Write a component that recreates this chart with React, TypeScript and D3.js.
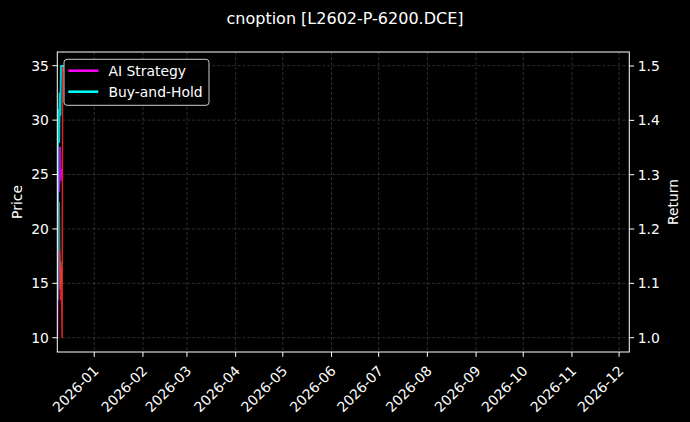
import * as d3 from "d3";

// Return series (right axis)
const aiDates = ["2025-12-08T12:00", "2025-12-09T02:00", "2025-12-09T14:00", "2025-12-10T04:00", "2025-12-10T16:00", "2025-12-11T06:00"];
const aiReturn = [1.0, 1.3, 1.27, 1.35, 1.29, 1.31];

const bhDates = ["2025-12-08T14:00", "2025-12-08T22:00", "2025-12-09T08:00", "2025-12-09T16:00", "2025-12-10T00:00", "2025-12-10T10:00", "2025-12-10T20:00", "2025-12-11T18:00", "2025-12-12T14:00"];
const bhReturn = [1.07, 1.38, 1.42, 1.36, 1.45, 1.41, 1.5, 1.5, 1.5];

// Price series (left axis)
const priceDates = ["2025-12-10T00:00", "2025-12-10T12:00", "2025-12-11T00:00", "2025-12-11T14:00", "2025-12-11T22:00", "2025-12-12T10:00"];
const priceValues = [18, 13.5, 16.5, 10, 35, 34.5];

const maDates = ["2025-12-09T18:00", "2025-12-10T06:00", "2025-12-10T18:00", "2025-12-11T06:00"];
const maValues = [22.5, 14.5, 17, 15];

const priceTicks = [10, 15, 20, 25, 30, 35];
const returnTicks = [1.0, 1.1, 1.2, 1.3, 1.4, 1.5];

const W = 690;
const H = 422;
const m = { left: 57.3, right: 629.3, top: 52, bottom: 352 };
const font = "DejaVu Sans, sans-serif";

const parse = (s: string) => new Date(s + ":00Z");

export default function App() {
  const x = d3
    .scaleUtc()
    .domain([parse("2025-12-08T12:00"), parse("2026-12-07T12:00")])
    .range([m.left, m.right]);
  const yP = d3.scaleLinear().domain([8.69, 36.26]).range([m.bottom, m.top]);
  const yR = d3.scaleLinear().domain([0.9737, 1.5258]).range([m.bottom, m.top]);

  const months = x.ticks(d3.utcMonth.every(1)!).filter((d) => d >= parse("2026-01-01T00:00"));
  const fmt = d3.utcFormat("%Y-%m");

  const mk = (dates: string[], vals: number[], y: d3.ScaleLinear<number, number>) =>
    d3
      .line<number>()
      .x((_, i) => x(parse(dates[i])))
      .y((v) => y(v))(vals) || "";

  return (
    <svg width={W} height={H} style={{ position: "fixed", left: 0, top: 0, background: "#000" }} fontFamily={font}>
      <rect width={W} height={H} fill="#000" />
      <defs>
        <clipPath id="plot">
          <rect x={m.left} y={m.top} width={m.right - m.left} height={m.bottom - m.top} />
        </clipPath>
      </defs>
      <text x={345} y={24} fill="#fff" fontSize={16} textAnchor="middle">
        cnoption [L2602-P-6200.DCE]
      </text>

      {/* grid */}
      {months.map((d, i) => (
        <line key={"gx" + i} x1={x(d)} x2={x(d)} y1={m.top} y2={m.bottom} stroke="#999" strokeOpacity={0.6} strokeWidth={0.5} strokeDasharray="3,2" />
      ))}
      {priceTicks.map((t, i) => (
        <line key={"gy" + i} x1={m.left} x2={m.right} y1={yP(t)} y2={yP(t)} stroke="#999" strokeOpacity={0.6} strokeWidth={0.5} strokeDasharray="3,2" />
      ))}

      <g clipPath="url(#plot)" fill="none" strokeLinejoin="round">
        <path d={mk(maDates, maValues, yP)} stroke="#2f8a4e" strokeWidth={1.5} />
        <path d={mk(priceDates, priceValues, yP)} stroke="#ff2a2a" strokeWidth={1.5} strokeOpacity={0.85} />
        <path d={mk(aiDates, aiReturn, yR)} stroke="#ff00ff" strokeWidth={2} strokeOpacity={0.8} />
        <path d={mk(bhDates, bhReturn, yR)} stroke="#00ffff" strokeWidth={2} strokeOpacity={0.8} />
      </g>

      <rect x={m.left} y={m.top} width={m.right - m.left} height={m.bottom - m.top} fill="none" stroke="#fff" strokeWidth={1} />

      {/* left axis */}
      {priceTicks.map((t, i) => (
        <g key={"lp" + i} transform={`translate(${m.left},${yP(t)})`}>
          <line x1={-4.9} x2={0} stroke="#fff" />
          <text x={-8.4} dy="0.35em" fill="#fff" fontSize={13.9} textAnchor="end">
            {t}
          </text>
        </g>
      ))}
      {/* right axis */}
      {returnTicks.map((t, i) => (
        <g key={"rr" + i} transform={`translate(${m.right},${yR(t)})`}>
          <line x1={0} x2={4.9} stroke="#fff" />
          <text x={8.4} dy="0.35em" fill="#fff" fontSize={13.9} textAnchor="start">
            {t.toFixed(1)}
          </text>
        </g>
      ))}
      {/* x axis */}
      {months.map((d, i) => (
        <g key={"xt" + i}>
          <line x1={x(d)} x2={x(d)} y1={m.bottom} y2={m.bottom + 4.9} stroke="#fff" />
          <text
            transform={`translate(${x(d) - 2},${m.bottom + 12.5}) rotate(-45)`}
            fill="#fff"
            fontSize={13.9}
            textAnchor="end"
            dominantBaseline="hanging"
          >
            {fmt(d)}
          </text>
        </g>
      ))}

      <text transform={`translate(22,${(m.top + m.bottom) / 2}) rotate(-90)`} fill="#fff" fontSize={13.9} textAnchor="middle">
        Price
      </text>
      <text transform={`translate(678,${(m.top + m.bottom) / 2}) rotate(-90)`} fill="#fff" fontSize={13.9} textAnchor="middle">
        Return
      </text>

      {/* legend */}
      <g>
        <rect x={64} y={59.3} width={145} height={46} rx={3} fill="#000" fillOpacity={0.8} stroke="#ccc" strokeWidth={1} />
        <line x1={68.3} x2={98.3} y1={70.7} y2={70.7} stroke="#ff00ff" strokeWidth={2.5} />
        <text x={108.5} y={70.7} dy="0.35em" fill="#fff" fontSize={13.9}>
          AI Strategy
        </text>
        <line x1={68.3} x2={98.3} y1={91.7} y2={91.7} stroke="#00ffff" strokeWidth={2.5} />
        <text x={108.5} y={91.7} dy="0.35em" fill="#fff" fontSize={13.9}>
          Buy-and-Hold
        </text>
      </g>
    </svg>
  );
}
